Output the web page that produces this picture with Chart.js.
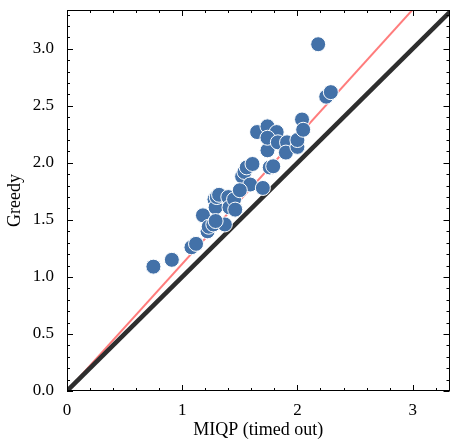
<!DOCTYPE html>
<html>
<head>
<meta charset="utf-8">
<script src="https://cdn.jsdelivr.net/npm/chart.js@4"></script>
<style>
  html, body { margin: 0; padding: 0; background: #fff; overflow: hidden; }
  #wrap { width: 450px; height: 445px; overflow: hidden; }
</style>
</head>
<body>
<div id="wrap"><canvas id="scatterChart" width="458" height="445"></canvas></div>
<script>
// values
const miqp = [0.75, 0.91, 1.08, 1.12, 1.18, 1.22, 1.23, 1.27, 1.28, 1.29, 1.30, 1.32, 1.37,
  1.40, 1.41, 1.45, 1.46, 1.52, 1.54, 1.56, 1.61, 1.59, 1.70, 1.76, 1.79, 1.74, 1.65,
  1.74, 1.82, 1.74, 1.83, 1.91, 1.90, 2.00, 2.00, 2.04, 2.05, 2.18, 2.25, 2.29, 1.50, 1.29];
const greedy = [1.09, 1.15, 1.26, 1.29, 1.54, 1.40, 1.44, 1.46, 1.68, 1.61, 1.70, 1.72, 1.46,
  1.70, 1.61, 1.68, 1.59, 1.88, 1.92, 1.96, 1.99, 1.81, 1.78, 1.96, 1.97, 2.11, 2.27,
  2.32, 2.27, 2.22, 2.18, 2.18, 2.09, 2.14, 2.20, 2.38, 2.29, 3.04, 2.58, 2.62, 1.76, 1.49];

// reference lines
const diagX = [0, 3.5];
const diagY = [0, 3.5];
const fitX = [0, 3.5];
const fitY = [0, 3.9];

// tick labels
const xTicks = [0, 1, 2, 3];
const yTicks = [0, 0.5, 1, 1.5, 2, 2.5, 3];

const xMax = 3.32, yMax = 3.34;
const serif = "'Liberation Serif', 'Times New Roman', serif";

const pts = miqp.map((x, i) => ({ x: x, y: greedy[i] }));
const toXY = (xs, ys) => xs.map((x, i) => ({ x: x, y: ys[i] }));

// frame + inward ticks on all four sides
const frameTicks = {
  id: 'frameTicks',
  afterDraw(chart) {
    const { ctx, chartArea: a, scales } = chart;
    const xs = scales.x, ys = scales.y;
    ctx.save();
    ctx.strokeStyle = '#000';
    ctx.lineWidth = 1;
    ctx.beginPath();
    for (let k = 0; k * 0.2 <= xMax + 1e-9; k++) {
      const len = k % 5 === 0 ? 6 : 3;
      const px = Math.round(xs.getPixelForValue(k * 0.2)) + 0.5;
      ctx.moveTo(px, a.bottom); ctx.lineTo(px, a.bottom - len);
      ctx.moveTo(px, a.top); ctx.lineTo(px, a.top + len);
    }
    for (let k = 0; k * 0.1 <= yMax + 1e-9; k++) {
      const len = k % 5 === 0 ? 6 : 3;
      const py = Math.round(ys.getPixelForValue(k * 0.1)) + 0.5;
      ctx.moveTo(a.left, py); ctx.lineTo(a.left + len, py);
      ctx.moveTo(a.right, py); ctx.lineTo(a.right - len, py);
    }
    ctx.stroke();
    ctx.strokeRect(Math.round(a.left) + 0.5, Math.round(a.top) + 0.5,
      Math.round(a.right - a.left) - 1, Math.round(a.bottom - a.top) - 1);
    ctx.restore();
  }
};

const ctx = document.getElementById('scatterChart').getContext('2d');
new Chart(ctx, {
  type: 'scatter',
  data: {
    datasets: [
      {
        type: 'line',
        data: toXY(fitX, fitY),
        borderColor: 'rgba(255, 110, 110, 0.9)',
        borderWidth: 2,
        pointRadius: 0,
        order: 3
      },
      {
        type: 'line',
        data: toXY(diagX, diagY),
        borderColor: '#2e2e2e',
        borderWidth: 4.5,
        pointRadius: 0,
        order: 2
      },
      {
        data: pts,
        backgroundColor: '#4371a8',
        borderColor: '#ffffff',
        borderWidth: 1,
        pointRadius: 7.5,
        order: 1
      }
    ]
  },
  options: {
    responsive: false,
    animation: false,
    layout: { padding: { top: 10, right: 1, left: 4, bottom: 4 } },
    plugins: { legend: { display: false }, tooltip: { enabled: false } },
    scales: {
      x: {
        type: 'linear',
        position: 'bottom',
        min: 0, max: xMax,
        grid: { display: false },
        border: { display: false },
        afterBuildTicks(s) { s.ticks = xTicks.map(v => ({ value: v })); },
        ticks: {
          padding: 1,
          color: '#000',
          font: { family: serif, size: 17 },
          maxRotation: 0
        },
        title: {
          display: true,
          text: 'MIQP (timed out)',
          color: '#000',
          font: { family: serif, size: 18 },
          padding: { top: 2, bottom: 0 }
        },
        afterFit(s) { s.height = 50; s.paddingRight = 0; s.paddingLeft = 0; }
      },
      y: {
        type: 'linear',
        position: 'left',
        min: 0, max: yMax,
        grid: { display: false },
        border: { display: false },
        afterBuildTicks(s) { s.ticks = yTicks.map(v => ({ value: v })); },
        ticks: {
          padding: 5,
          color: '#000',
          font: { family: serif, size: 17 },
          callback: v => v.toFixed(1)
        },
        title: {
          display: true,
          text: 'Greedy',
          color: '#000',
          font: { family: serif, size: 18 },
          padding: { top: 0, bottom: 4 }
        },
        afterFit(s) { s.width = 63; s.paddingTop = 0; s.paddingBottom = 0; }
      }
    }
  },
  plugins: [frameTicks]
});
</script>
</body>
</html>
